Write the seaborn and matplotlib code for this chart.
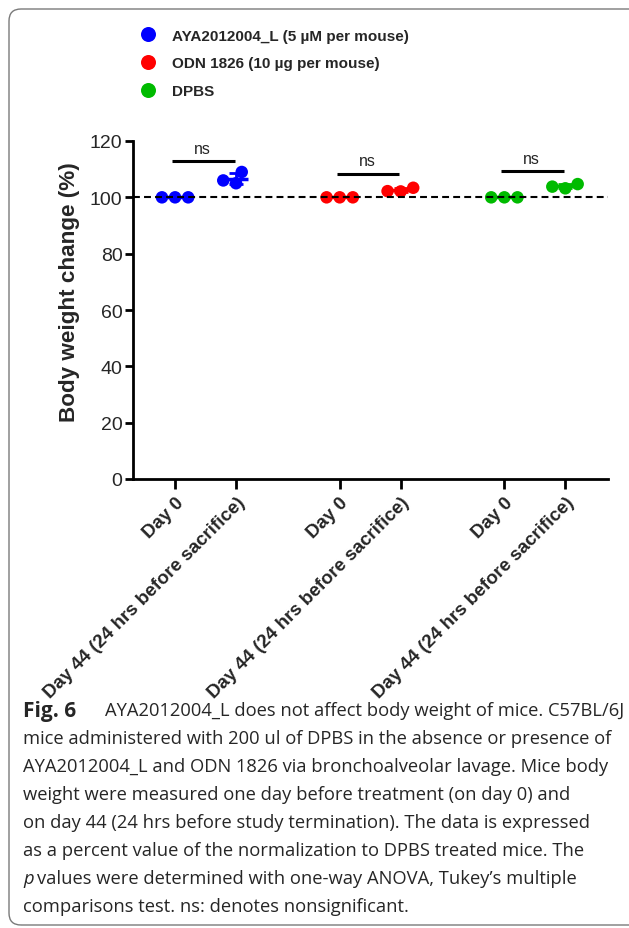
import numpy as np
import pandas as pd
import matplotlib
matplotlib.use("Agg")
from matplotlib import pyplot as plt
from matplotlib.patches import FancyBboxPatch
import seaborn as sb

sb.set_style("ticks")
plt.rcParams['font.family'] = ['Liberation Sans', 'DejaVu Sans']

# data
groups = ['AYA2012004_L (5 µM per mouse)', 'ODN 1826 (10 µg per mouse)', 'DPBS']
days = ['Day 0', 'Day 44 (24 hrs before sacrifice)']
colors = ['#0000ff', '#ff0000', '#00bb00']
aya_day0 = [100.0, 100.0, 100.0]
aya_day44 = [105.0, 109.0, 106.0]
odn_day0 = [100.0, 100.0, 100.0]
odn_day44 = [102.2, 103.4, 102.1]
dpbs_day0 = [100.0, 100.0, 100.0]
dpbs_day44 = [103.2, 104.7, 103.8]
ns_bracket_y = [112.8, 108.3, 109.3]

series = [[aya_day0, aya_day44], [odn_day0, odn_day44], [dpbs_day0, dpbs_day44]]
group_gap = 2.7

rows = []
for gi, g in enumerate(groups):
    for di, d in enumerate(days):
        for v in series[gi][di]:
            rows.append(dict(group=g, day=d, value=v, xpos=gi * group_gap + di))
df = pd.DataFrame(rows)

fig = plt.figure(figsize=(6.29, 9.29), dpi=100)
ax = fig.add_axes([133 / 629, 1 - 480 / 929, (608 - 133) / 629, (480 - 142) / 929])

# mean +/- SD bars behind the dots
for (g, x), sub in df.groupby(['group', 'xpos']):
    c = colors[groups.index(g)]
    m = sub['value'].mean()
    sd = sub['value'].std()
    ax.hlines(m, x - 0.2, x + 0.2, color=c, lw=2.5, zorder=1)
    ax.errorbar(x, m, yerr=sd, fmt='none', ecolor=c, elinewidth=2,
                capsize=5, capthick=2, zorder=1)

sb.swarmplot(data=df, x='xpos', y='value', hue='group', hue_order=groups,
             palette=colors, native_scale=True, size=9, linewidth=0,
             ax=ax, zorder=3)

ax.axhline(100, color='black', lw=1.5, ls=(0, (3.3, 2)), zorder=5)

# ns brackets
for gi, by in enumerate(ns_bracket_y):
    x0 = gi * group_gap
    ax.plot([x0 - 0.05, x0 + 0.98], [by, by], color='black', lw=2.2,
            solid_capstyle='butt')
    ax.text(x0 + 0.45, by + 2.0, 'ns', ha='center', va='bottom', fontsize=11.5)

ax.set_ylim(0, 120)
ax.set_yticks(range(0, 121, 20))
ax.set_xlim(-0.69, 7.1)
xt = sorted(df['xpos'].unique())
ax.set_xticks(xt)
ax.set_xticklabels([days[i % 2] for i in range(len(xt))], rotation=45,
                   ha='right', rotation_mode='anchor', fontweight='bold',
                   fontsize=13.5)
ax.set_xlabel('')
ax.set_ylabel('Body weight change (%)', fontsize=16.2, fontweight='bold')
ax.yaxis.set_label_coords(-0.112, 0.556)
ax.tick_params(axis='y', labelsize=14, length=6, width=2, color='black',
               pad=1.5)
ax.tick_params(axis='x', length=7.5, width=2, color='black', pad=3)
sb.despine(ax=ax)
for s in ['left', 'bottom']:
    ax.spines[s].set_linewidth(2)
    ax.spines[s].set_color('black')

# legend at the top
h, l = ax.get_legend_handles_labels()
ax.legend(h, l, loc='upper left', bbox_to_anchor=(133 / 629, 1 - 22 / 929),
          bbox_transform=fig.transFigure, frameon=False, markerscale=1.2,
          borderpad=0, handlelength=1.0, labelspacing=0.9,
          handletextpad=1.05, prop=dict(weight='bold', size=11))

# caption
cap_font = ['Open Sans', 'DejaVu Sans']
cap_size = 13.2
lines = [
    'AYA2012004_L does not affect body weight of mice. C57BL/6J',
    'mice administered with 200 ul of DPBS in the absence or presence of',
    'AYA2012004_L and ODN 1826 via bronchoalveolar lavage. Mice body',
    'weight were measured one day before treatment (on day 0) and',
    'on day 44 (24 hrs before study termination). The data is expressed',
    'as a percent value of the normalization to DPBS treated mice. The',
    'values were determined with one-way ANOVA, Tukey\u2019s multiple',
    'comparisons test. ns: denotes nonsignificant.',
]
y0 = 711
for i, t in enumerate(lines):
    yy = 1 - (y0 + 28 * i) / 929
    x = 23
    if i == 0:
        fig.text(x / 629, yy, 'Fig. 6', family=cap_font, size=15,
                 weight='bold', va='center')
        x = 105
    if i == 6:
        fig.text(x / 629, yy, 'p', family=cap_font, size=cap_size,
                 style='italic', va='center')
        x = 37
    fig.text(x / 629, yy, t, family=cap_font, size=cap_size, va='center')

# rounded frame, running off the right edge
frame = FancyBboxPatch((0.09, 0.03), 8.0, 9.16,
                       boxstyle='round,pad=0,rounding_size=0.12',
                       transform=fig.dpi_scale_trans, fill=False,
                       edgecolor='#7a7a7a', lw=1.0, clip_on=False)
fig.add_artist(frame)

fig.savefig('out.png', dpi=100)
